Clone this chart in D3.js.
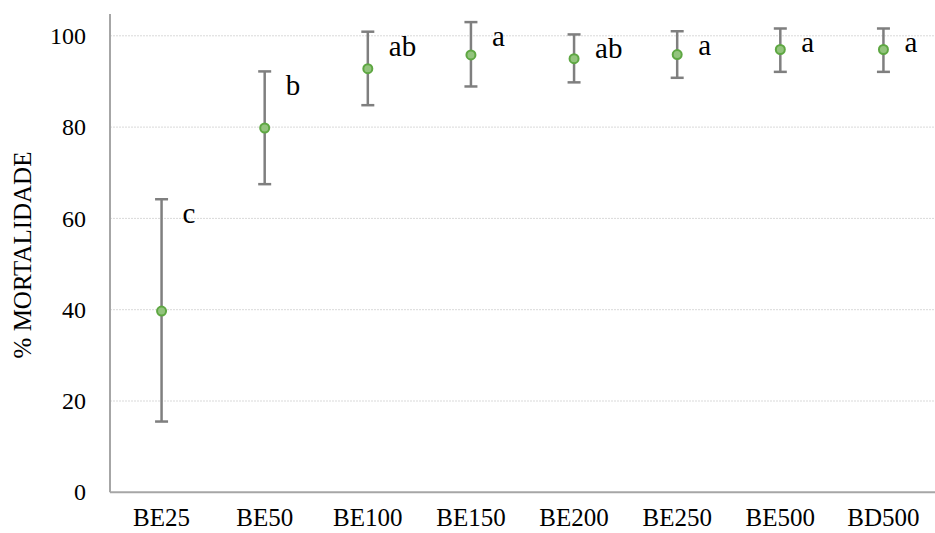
<!DOCTYPE html>
<html>
<head>
<meta charset="utf-8">
<title>% Mortalidade</title>
<script src="https://cdn.jsdelivr.net/npm/d3@7"></script>
<style>
  body { margin: 0; background: #fff; }
</style>
</head>
<body>
<script>
var categories = ["BE25", "BE50", "BE100", "BE150", "BE200", "BE250", "BE500", "BD500"];
var means = [39.7, 79.8, 92.8, 95.8, 95.0, 95.9, 97.0, 97.0];
var upper = [64.2, 92.2, 100.9, 103.0, 100.3, 101.0, 101.6, 101.6];
var lower = [15.5, 67.5, 84.8, 88.9, 89.8, 90.8, 92.1, 92.1];
var letters = ["c", "b", "ab", "a", "ab", "a", "a", "a"];
var yTicks = [0, 20, 40, 60, 80, 100];

var width = 935, height = 533;
var margin = {top: 14, right: 0, bottom: 41, left: 110};
var serif = "'Liberation Serif'";

var svg = d3.select("body").append("svg")
    .attr("width", width)
    .attr("height", height);

var x = d3.scaleBand()
    .domain(categories)
    .range([margin.left, width - margin.right]);

var y = d3.scaleLinear()
    .domain([0, 100])
    .range([492.3, 35.8]);

// gridlines
svg.append("g")
  .selectAll("line")
    .data(yTicks.filter(function(d) { return d > 0; }))
  .enter().append("line")
    .attr("x1", margin.left)
    .attr("x2", width)
    .attr("y1", function(d) { return y(d); })
    .attr("y2", function(d) { return y(d); })
    .attr("stroke", "#d9d9d9")
    .attr("stroke-dasharray", "2,1");

// y axis
var yAxis = svg.append("g")
    .attr("transform", "translate(" + margin.left + ",0)")
    .call(d3.axisLeft(y).tickValues(yTicks).tickSize(0).tickPadding(24));
yAxis.select(".domain").remove();
yAxis.selectAll("text")
    .style("font-family", serif)
    .style("font-size", "24px")
    .attr("fill", "#000");

svg.append("line")
    .attr("x1", margin.left).attr("x2", margin.left)
    .attr("y1", margin.top).attr("y2", y(0))
    .attr("stroke", "#a6a6a6").attr("stroke-width", 2);

// x axis
var xAxis = svg.append("g")
    .attr("transform", "translate(0," + y(0) + ")")
    .call(d3.axisBottom(x).tickSize(0).tickPadding(16));
xAxis.select(".domain").remove();
xAxis.selectAll("text")
    .style("font-family", serif)
    .style("font-size", "25px")
    .attr("fill", "#000");

svg.append("line")
    .attr("x1", margin.left).attr("x2", width)
    .attr("y1", y(0)).attr("y2", y(0))
    .attr("stroke", "#a6a6a6").attr("stroke-width", 2);

// y title
svg.append("text")
    .attr("transform", "translate(31,255) rotate(-90)")
    .attr("text-anchor", "middle")
    .style("font-family", serif)
    .style("font-size", "25px")
    .text("% MORTALIDADE");

var cx = function(i) { return x(categories[i]) + x.bandwidth() / 2; };

// error bars
var bars = svg.append("g").selectAll("g")
    .data(categories)
  .enter().append("g")
    .attr("stroke", "#7f7f7f")
    .attr("stroke-width", 2.5);

bars.append("line")
    .attr("x1", function(d, i) { return cx(i); })
    .attr("x2", function(d, i) { return cx(i); })
    .attr("y1", function(d, i) { return y(upper[i]); })
    .attr("y2", function(d, i) { return y(lower[i]); });

bars.append("line")
    .attr("x1", function(d, i) { return cx(i) - 6.5; })
    .attr("x2", function(d, i) { return cx(i) + 6.5; })
    .attr("y1", function(d, i) { return y(upper[i]); })
    .attr("y2", function(d, i) { return y(upper[i]); });

bars.append("line")
    .attr("x1", function(d, i) { return cx(i) - 6.5; })
    .attr("x2", function(d, i) { return cx(i) + 6.5; })
    .attr("y1", function(d, i) { return y(lower[i]); })
    .attr("y2", function(d, i) { return y(lower[i]); });

// points
svg.append("g").selectAll("circle")
    .data(means)
  .enter().append("circle")
    .attr("cx", function(d, i) { return cx(i); })
    .attr("cy", function(d) { return y(d); })
    .attr("r", 4.5)
    .attr("fill", "#93c47d")
    .attr("stroke", "#5ea742")
    .attr("stroke-width", 2);

// significance letters
svg.append("g").selectAll("text")
    .data(letters)
  .enter().append("text")
    .attr("x", function(d, i) { return cx(i) + 21; })
    .attr("y", function(d, i) { return y(upper[i]) + 24; })
    .style("font-family", serif)
    .style("font-size", "29px")
    .text(function(d) { return d; });
</script>
</body>
</html>
